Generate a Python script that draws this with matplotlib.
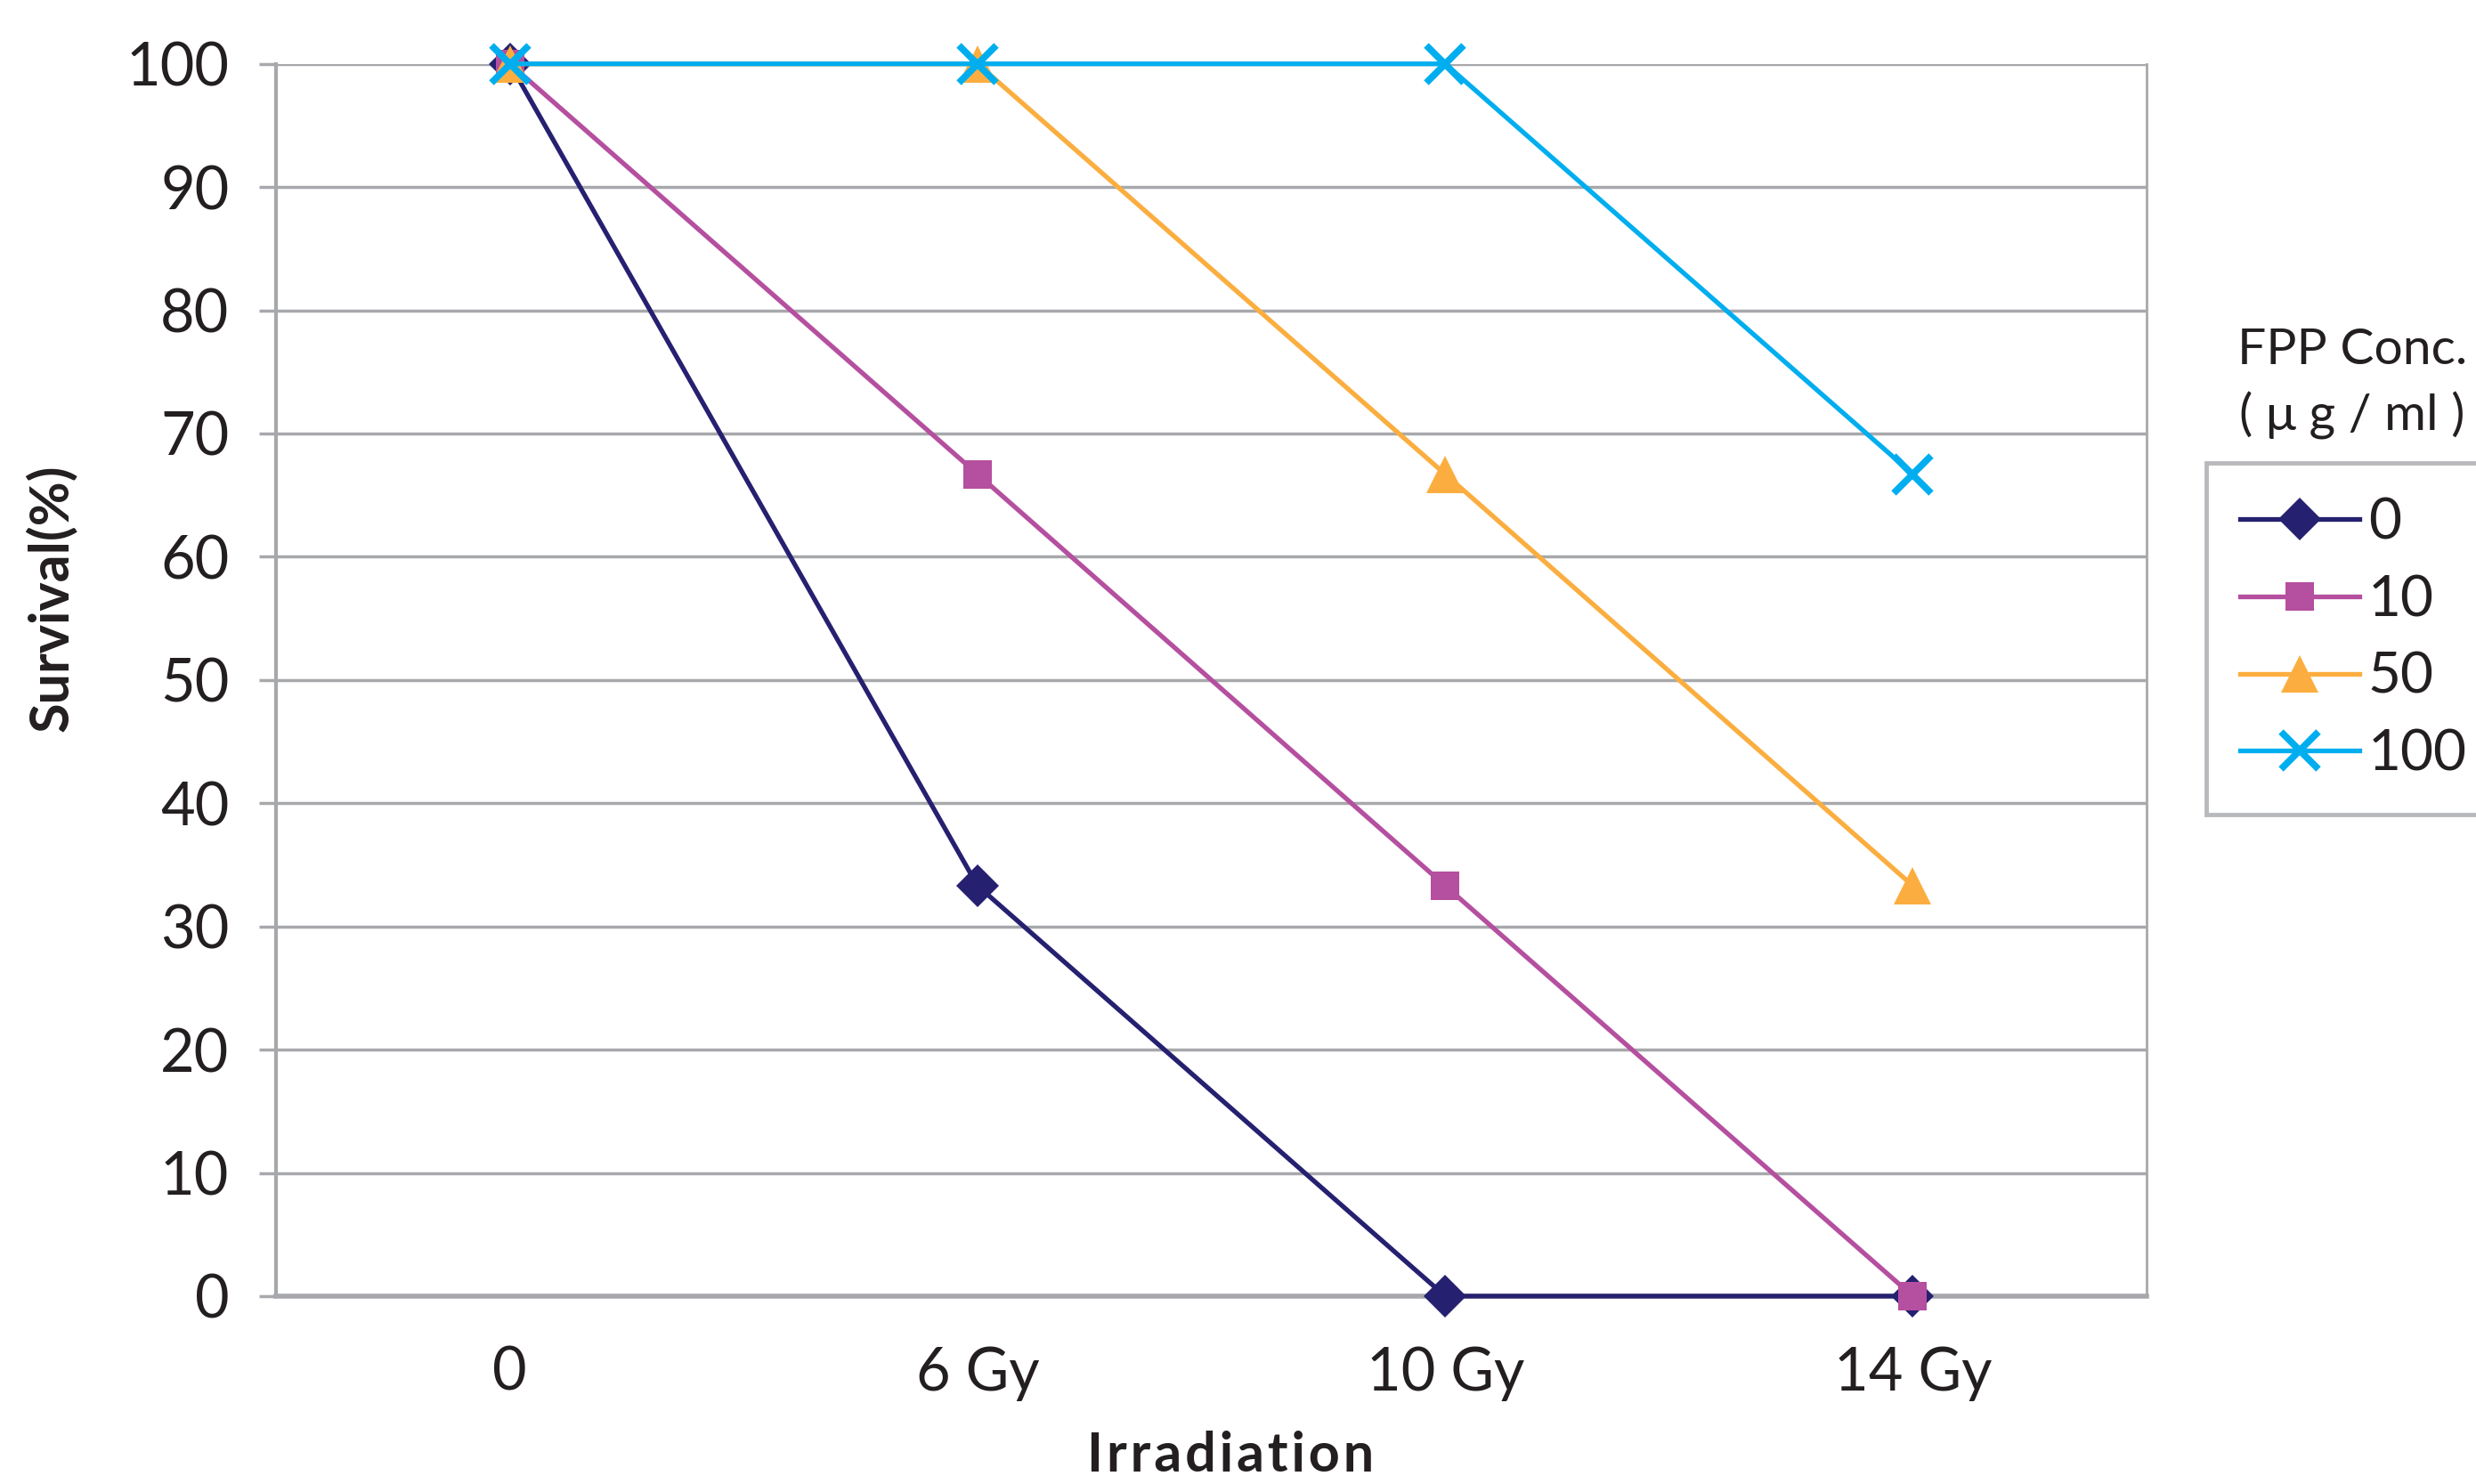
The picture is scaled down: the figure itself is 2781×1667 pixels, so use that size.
import matplotlib
matplotlib.use("Agg")
import matplotlib.pyplot as plt

# Dados
doses = ["0", "6 Gy", "10 Gy", "14 Gy"]
conc_labels = ["0", "10", "50", "100"]
surv_0 = [100, 33.3, 0, 0]
surv_10 = [100, 66.7, 33.3, 0]
surv_50 = [100, 100, 66.7, 33.3]
surv_100 = [100, 100, 100, 66.7]

cores = ["#262070", "#b54f9f", "#fbae3f", "#00aeef"]
marcadores = ["D", "s", "^", "x"]
tamanhos = [24, 23, 30, 30]

plt.rcParams["font.family"] = ["Lato", "DejaVu Sans"]

fig = plt.figure(figsize=(27.81, 16.67), dpi=100)
ax = fig.add_axes([0.1115, 0.1266, 0.867 - 0.1115, 0.957 - 0.1266])

x = list(range(len(doses)))
series = [surv_0, surv_10, surv_50, surv_100]
for vals, lab, c, m, s in zip(series, conc_labels, cores, marcadores, tamanhos):
    ax.plot(x, vals, color=c, lw=3.8, marker=m, markersize=s,
            markeredgewidth=5.5 if m == "x" else 0, markeredgecolor=c,
            label=lab, clip_on=False, zorder=3)

ax.set_xlim(-0.5, 3.5)
ax.set_ylim(0, 100)
ax.set_yticks(range(0, 101, 10))
ax.set_xticks(x)
ax.set_xticklabels(doses)

ax.grid(axis="y", color="#a7a8ab", lw=2.5)
ax.set_axisbelow(True)
for lado in ["left", "right", "bottom"]:
    ax.spines[lado].set_color("#a7a8ab")
ax.spines["left"].set_linewidth(3)
ax.spines["right"].set_linewidth(2)
ax.spines["bottom"].set_linewidth(4)
ax.spines["top"].set_visible(False)

ax.tick_params(axis="y", length=14, width=2.5, color="#a7a8ab",
               labelsize=48, pad=24, labelcolor="#231f20")
ax.tick_params(axis="x", length=0, labelsize=48, pad=40, labelcolor="#231f20")

fig.text(0.0205, 0.597, "Survival(%)", rotation=90, ha="center", va="center",
         fontsize=44, fontweight="bold", color="#231f20")
fig.text(0.497, 0.019, "I r r a d i a t i o n".replace(" ", "\u200a"),
         ha="center", va="center",
         fontsize=44, fontweight="bold", color="#231f20")

# título da legenda fica fora da caixa
fig.text(0.950, 0.764, "FPP Conc.", ha="center", va="center",
         fontsize=41, color="#231f20")
fig.text(0.950, 0.720, "( \u03bc g / ml )", ha="center", va="center",
         fontsize=41, color="#231f20")

leg = ax.legend(loc="upper left", bbox_to_anchor=(0.891, 0.688),
                bbox_transform=fig.transFigure, borderaxespad=0,
                fontsize=46, frameon=True, fancybox=False,
                handlelength=2.1, handletextpad=0.15, labelspacing=0.45,
                borderpad=0.6)
leg.get_frame().set_edgecolor("#a7a8ab")
leg.get_frame().set_linewidth(3.5)
for t in leg.get_texts():
    t.set_color("#231f20")

fig.savefig("out.png", dpi=100)
